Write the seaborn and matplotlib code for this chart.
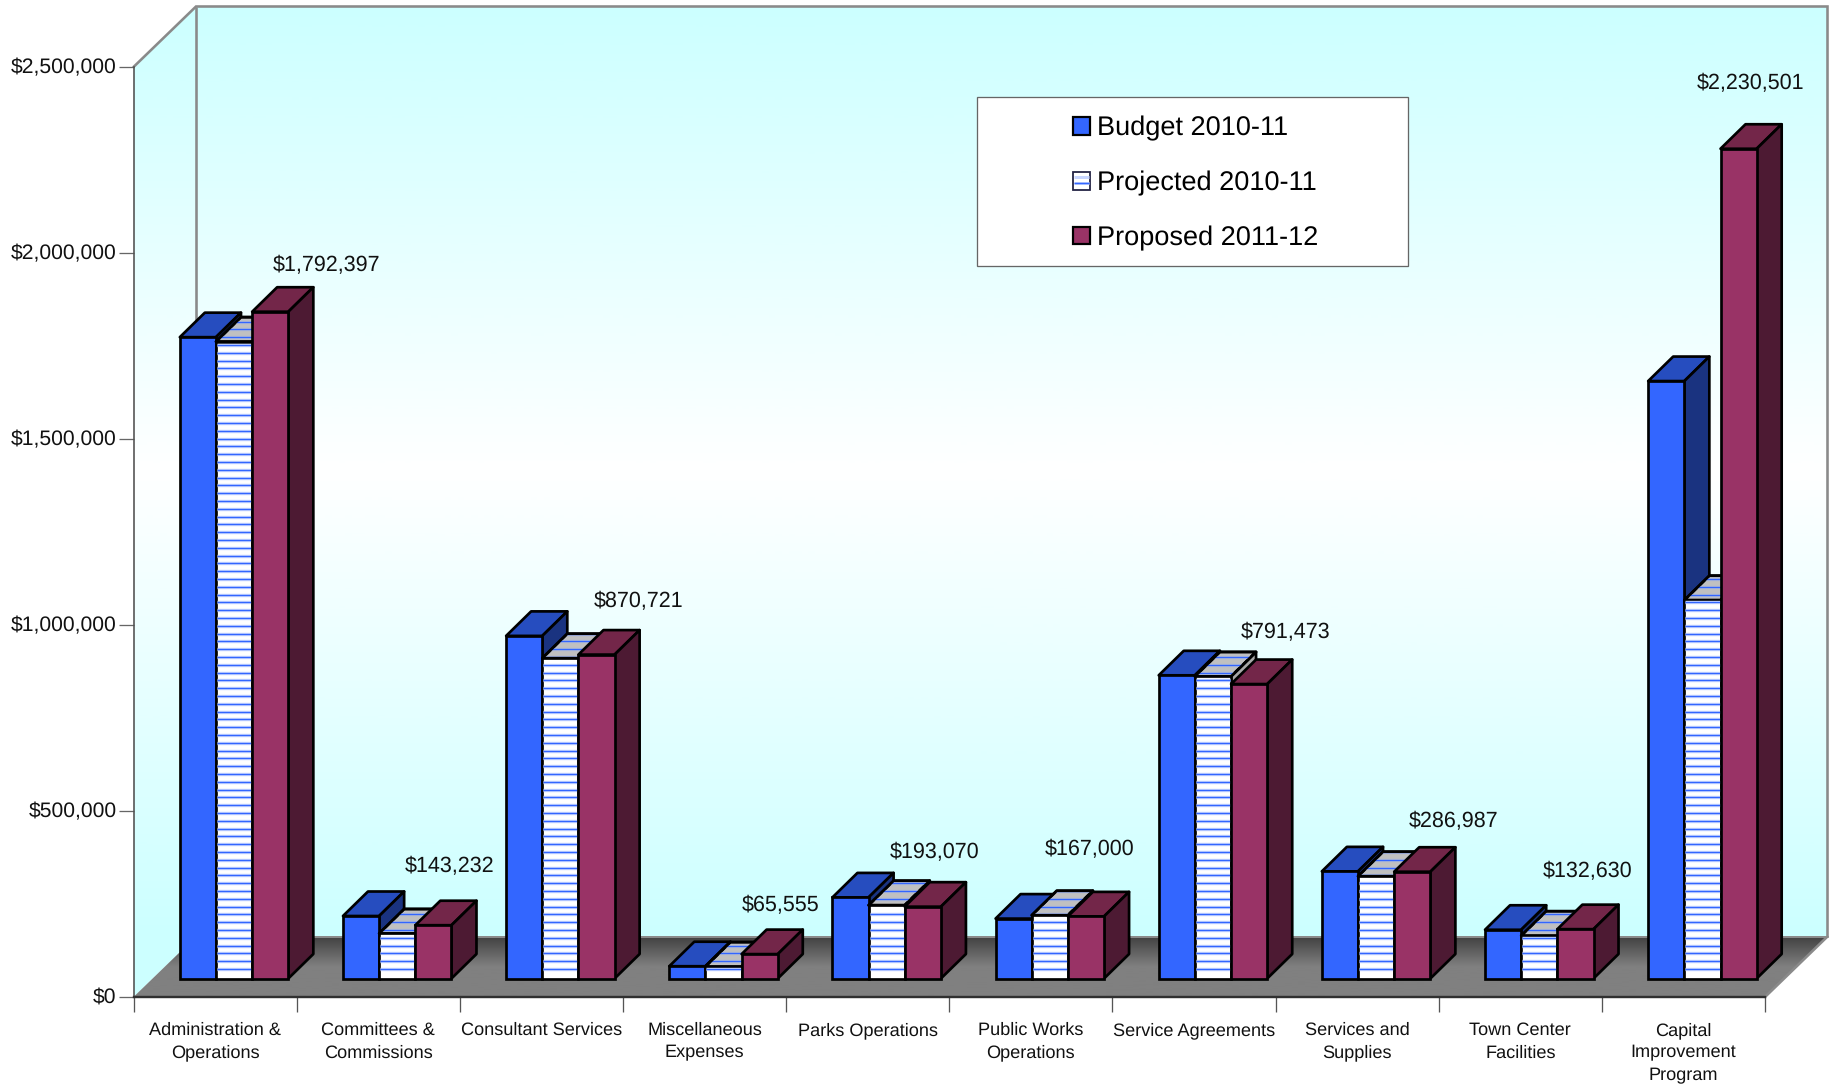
import numpy as np
import pandas as pd
import matplotlib
matplotlib.use("Agg")
import matplotlib.pyplot as plt
import seaborn as sns
from matplotlib.collections import LineCollection
from matplotlib.colors import LinearSegmentedColormap
from matplotlib.legend_handler import HandlerPatch
from matplotlib.lines import Line2D
from matplotlib.patches import Patch, Polygon, Rectangle
from matplotlib.ticker import FuncFormatter
from matplotlib.transforms import IdentityTransform, ScaledTranslation

# ---- data -------------------------------------------------------------
categories = ["Administration &\nOperations", "Committees &\nCommissions", "Consultant Services",
              "Miscellaneous\nExpenses", "Parks Operations", "Public Works\nOperations",
              "Service Agreements", "Services and\nSupplies", "Town Center\nFacilities",
              "Capital\nImprovement\nProgram"]
series_names = ["Budget 2010-11", "Projected 2010-11", "Proposed 2011-12"]
budget = [1724000, 168000, 921000, 33000, 218000, 161000, 815000, 288000, 131000, 1606000]
projected = [1712000, 121000, 861000, 32000, 197000, 170000, 812000, 275000, 115000, 1017000]
proposed = [1792397, 143232, 870721, 65555, 193070, 167000, 791473, 286987, 132630, 2230501]

# ---- layout and style (pixels of the 1836x1087 picture) ----------------
W, H = 1836, 1087
LEFT, RIGHT, TOP, BOTTOM = 133.5, 1765.0, 67.0, 997.0
WALL_DX, WALL_DY = 62.5, 60.5
BAR_SHIFT_X, BAR_SHIFT_Y = 19.0, 18.5
DEPTH_X, DEPTH_Y = 25.0, 24.5
STRIPE_STEP = 7.8
EDGE = 2.7
label_dx = [56, 16, 42, 21, 12, 4, 36, 41, 12, 12]
label_dy = [46, 59, 53, 49, 54, 67, 52, 50, 58, 65]
front_colors = ["#3366FF", "#FFFFFF", "#993366"]
top_colors = ["#264DBF", "#C0C0C0", "#732649"]
side_colors = ["#1A3380", "#A8A8A8", "#4D1A33"]
px = 72 / 100  # one pixel in points at dpi 100

sns.set_theme(style="white")
plt.rcParams["font.family"] = ["Liberation Sans", "DejaVu Sans"]
plt.rcParams["text.hinting"] = "no_hinting"

df = pd.DataFrame({"category": categories, series_names[0]: budget,
                   series_names[1]: projected, series_names[2]: proposed})
long_df = df.melt(id_vars="category", var_name="series", value_name="value")

fig = plt.figure(figsize=(W / 100, H / 100), dpi=100, facecolor="white")


def axes_rect(dx=0.0, dy=0.0):
    return [(LEFT + dx) / W, (H - BOTTOM + dy) / H, (RIGHT - LEFT) / W, (BOTTOM - TOP) / H]


# ---- background box: walls and floor, in picture pixels ----------------
bg = fig.add_axes([0, 0, 1, 1], zorder=0)
wall_top, wall_bottom = TOP - WALL_DY, BOTTOM - WALL_DY
wall_left, wall_right = LEFT + WALL_DX, RIGHT + WALL_DX

wall_cmap = LinearSegmentedColormap.from_list("wall", ["#CCFFFF", "#FFFFFF", "#CCFFFF"])
floor_cmap = LinearSegmentedColormap.from_list("floor", ["#404040", "#808080", "#808080"])

wall_poly = Polygon([(LEFT, BOTTOM), (wall_left, wall_bottom), (wall_right, wall_bottom),
                     (wall_right, wall_top), (wall_left, wall_top), (LEFT, TOP)],
                    closed=True, transform=bg.transData, fc="none", ec="none")
bg.add_patch(wall_poly)
wall_rows = np.clip((np.arange(wall_top, BOTTOM + 1) - wall_top) / (wall_bottom - wall_top), 0, 1)
wall_img = bg.imshow(wall_rows[:, None], cmap=wall_cmap, vmin=0, vmax=1, aspect="auto",
                     extent=[LEFT, wall_right, BOTTOM, wall_top], origin="upper")
wall_img.set_clip_path(wall_poly)

floor_poly = Polygon([(LEFT, BOTTOM), (RIGHT, BOTTOM), (wall_right, wall_bottom), (wall_left, wall_bottom)],
                     closed=True, transform=bg.transData, fc="none", ec="none")
bg.add_patch(floor_poly)
floor_img = bg.imshow(np.linspace(0, 1, 256)[:, None], cmap=floor_cmap, aspect="auto",
                      extent=[LEFT, wall_right, BOTTOM, wall_bottom], origin="upper")
floor_img.set_clip_path(floor_poly)

bg.plot([wall_left, wall_left], [wall_bottom, wall_top], color="#8A8A8A", lw=2.6 * px, solid_capstyle="butt")
bg.plot([LEFT, wall_left, wall_right, wall_right, RIGHT],
        [TOP, wall_top, wall_top, wall_bottom, BOTTOM], color="#8A8A8A", lw=2.6 * px, solid_joinstyle="miter")
bg.plot([wall_left, wall_right], [wall_bottom, wall_bottom], color="#8A8A8A", lw=2 * px)

# legend frame
bg.add_patch(Rectangle((977, 97), 431, 169, fc="white", ec="#666666", lw=1.3 * px))

bg.set_xlim(0, W)
bg.set_ylim(H, 0)
bg.axis("off")

# ---- front plane: value axis and category axis -------------------------
ax = fig.add_axes(axes_rect(), zorder=1)
ax.patch.set_visible(False)
ax.set_xlim(-0.5, len(categories) - 0.5)
ax.set_ylim(0, 2500000)
ax.set_yticks(np.arange(0, 2500001, 500000))
ax.yaxis.set_major_formatter(FuncFormatter(lambda v, _: f"${v:,.0f}"))
ax.set_xticks(np.arange(len(categories) + 1) - 0.5)
ax.set_xticklabels([])
ax.set_xticks(np.arange(len(categories)), labels=categories, minor=True)
ax.tick_params(axis="y", left=True, length=15 * px, width=1.3 * px, color="#666666", pad=2 * px,
               labelsize=15.2, labelcolor="#111111")
ax.tick_params(axis="x", which="major", bottom=True, length=15 * px, width=1.3 * px, color="#555555")
ax.tick_params(axis="x", which="minor", bottom=False, length=0, pad=18.2, labelsize=13.1, labelcolor="#111111")
for lab in ax.get_xticklabels(minor=True):
    lab.set_linespacing(1.42)
nudge_up = ScaledTranslation(0, 1.2 * px / 72, fig.dpi_scale_trans)
for lab in ax.get_yticklabels():
    lab.set_verticalalignment("center_baseline")
    lab.set_transform(lab.get_transform() + nudge_up)
for name in ("top", "right"):
    ax.spines[name].set_visible(False)
ax.spines["left"].set_color("#505050")
ax.spines["left"].set_linewidth(1.6 * px)
ax.spines["bottom"].set_color("#303030")
ax.spines["bottom"].set_linewidth(2.4 * px)
ax.set_xlabel("")
ax.set_ylabel("")

# ---- bars, on the same scales pushed back onto the floor ----------------
bar_ax = fig.add_axes(axes_rect(BAR_SHIFT_X, BAR_SHIFT_Y), zorder=2)
bar_ax.patch.set_visible(False)
sns.barplot(data=long_df, x="category", y="value", hue="series", hue_order=series_names,
            order=categories, palette=front_colors, width=0.665, gap=0, saturation=1,
            edgecolor="black", linewidth=EDGE * px, legend=False, ax=bar_ax)
bar_ax.set_xlim(-0.5, len(categories) - 0.5)
bar_ax.set_ylim(0, 2500000)
bar_ax.axis("off")


def add_stripes(x0, x1, y_first, y_last, z, clip=None, halo="#C4D3FF"):
    rows = np.arange(y_first, y_last, STRIPE_STEP)
    segments = [[(x0, r), (x1, r)] for r in rows]
    for colour, width in ((halo, 3.4), ("#3366FF", 1.3)):
        lc = LineCollection(segments, colors=colour, linewidths=width * px,
                            transform=IdentityTransform(), zorder=z, capstyle="butt")
        bar_ax.add_collection(lc, autolim=False)
        if clip is not None:
            lc.set_clip_path(clip)
        else:
            lc.set_clip_on(False)


fig.canvas.draw()
for s, container in enumerate(bar_ax.containers):
    for rect in container:
        (x0, y0), (x1, y1) = bar_ax.transData.transform(
            [(rect.get_x(), 0), (rect.get_x() + rect.get_width(), rect.get_height())])
        base_z = 3 + s
        rect.set_zorder(base_z + 0.2)
        rect.set_clip_on(False)
        rect.set_joinstyle("miter")
        top = Polygon([(x0, y1), (x1, y1), (x1 + DEPTH_X, y1 + DEPTH_Y), (x0 + DEPTH_X, y1 + DEPTH_Y)],
                      closed=True, fc=top_colors[s], ec="black", lw=EDGE * px, joinstyle="round",
                      transform=IdentityTransform(), zorder=base_z, clip_on=False)
        side = Polygon([(x1, y0), (x1 + DEPTH_X, y0 + DEPTH_Y), (x1 + DEPTH_X, y1 + DEPTH_Y), (x1, y1)],
                       closed=True, fc=side_colors[s], ec="black", lw=EDGE * px, joinstyle="round",
                       transform=IdentityTransform(), zorder=base_z, clip_on=False)
        bar_ax.add_patch(top)
        bar_ax.add_patch(side)
        if s == 1:
            clip_top = Polygon(top.get_xy(), closed=True, transform=IdentityTransform())
            add_stripes(x0, x1 + DEPTH_X, y0 + 9.6, y1 + DEPTH_Y + 1, base_z + 0.05,
                        clip=clip_top, halo="#AEB9D6")
            bar_ax.add_patch(Polygon(top.get_xy(), closed=True, fc="none", ec="black", lw=EDGE * px,
                                     joinstyle="round", transform=IdentityTransform(),
                                     zorder=base_z + 0.1, clip_on=False))
            add_stripes(x0 + 1, x1 - 1, y0 + 9.6, y1 - 1.5, base_z + 0.3)

# ---- value labels on the proposed bars ---------------------------------
for rect, value, dx, dy in zip(bar_ax.containers[2], proposed, label_dx, label_dy):
    bar_ax.annotate(f"${value:,.0f}", xy=(rect.get_x() + rect.get_width() / 2, rect.get_height()),
                    xytext=(dx, dy), textcoords="offset pixels", ha="center", va="center",
                    fontsize=15.5, color="#111111", zorder=10, annotation_clip=False)


# ---- legend -------------------------------------------------------------
class StripedHandler(HandlerPatch):
    def create_artists(self, legend, orig_handle, xdescent, ydescent, width, height, fontsize, trans):
        artists = [Rectangle((-xdescent, -ydescent), width, height, fc="white", ec="#222244",
                             lw=1.8 * px, transform=trans)]
        for frac, colour, lw in ((0.36, "#AFC3FF", 3.0), (0.36, "#3366FF", 1.2), (0.72, "#C7D5FF", 3.0)):
            y = -ydescent + frac * height
            artists.append(Line2D([-xdescent + 1, -xdescent + width - 1], [y, y], color=colour,
                                  lw=lw * px, transform=trans, solid_capstyle="butt"))
        return artists


handles = [Patch(fc=front_colors[0], ec="black", lw=2.2 * px),
           Patch(fc="white", ec="black"),
           Patch(fc=front_colors[2], ec="black", lw=2.2 * px)]
bar_ax.legend(handles, series_names, handler_map={handles[1]: StripedHandler()},
              loc="upper left", bbox_to_anchor=(1073 / W, (H - 116) / H),
              bbox_transform=fig.transFigure, frameon=False, borderpad=0, borderaxespad=0,
              fontsize=19.5, labelspacing=1.09, handlelength=0.63, handleheight=0.63,
              handletextpad=0.25, labelcolor="#000000")

fig.savefig("out.png", dpi=100, facecolor="white")
